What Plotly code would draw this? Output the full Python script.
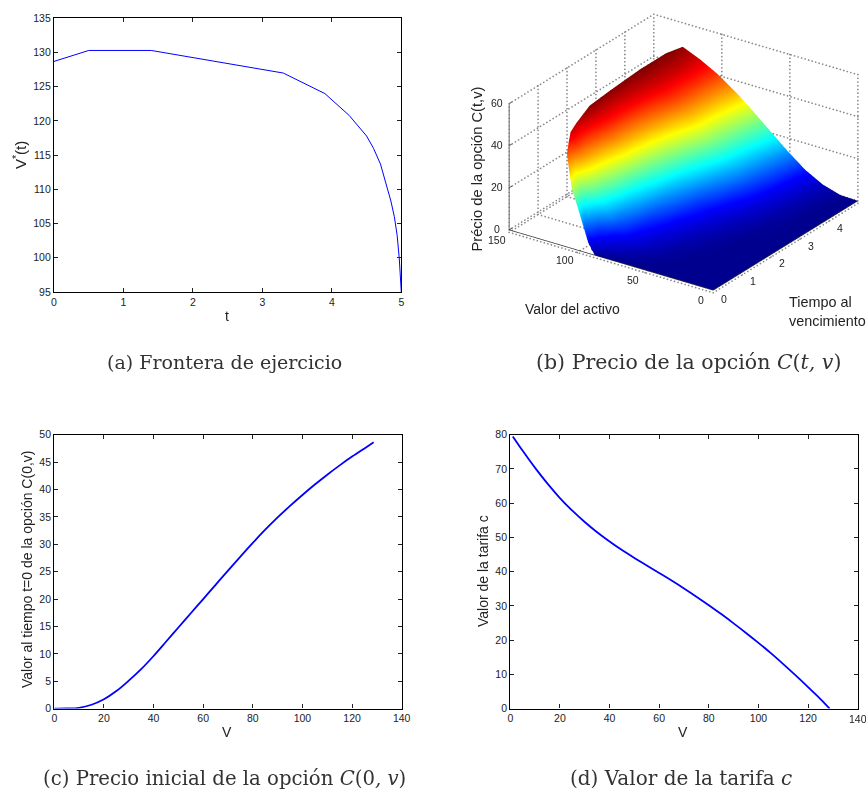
import plotly.graph_objects as go

W, H = 866, 790

# (a) exercise frontier
t_a = [0, 0.5, 1.4, 3.3, 3.9, 4.25, 4.5, 4.6, 4.7, 4.75, 4.8, 4.85, 4.9, 4.94, 4.97, 4.99, 5]
v_a = [128.7, 130.3, 130.3, 127, 124, 120.8, 117.8, 116, 113.7, 112, 110.3, 108.3, 106, 103.3, 100, 97.5, 95]

# (c) initial option price
v_c = [0, 5, 10, 15, 20, 25, 30, 35, 40, 45, 50, 55, 60, 65, 70, 75, 80, 85, 90, 95, 100, 105, 110, 115, 120, 125, 128.7]
c_c = [0, 0.02, 0.15, 0.7, 1.7, 3.2, 5.1, 7.2, 9.6, 12.2, 14.8, 17.4, 20, 22.6, 25.2, 27.75, 30.25, 32.65, 34.9, 37, 39, 40.9, 42.7, 44.4, 46, 47.5, 48.6]

# (d) fee value
v_d = [1, 5, 10, 15, 20, 25, 30, 35, 40, 45, 50, 55, 60, 65, 70, 75, 80, 85, 90, 95, 100, 105, 110, 115, 120, 125, 128.7]
c_d = [79.5, 75.3, 70.3, 65.7, 61.5, 57.8, 54.5, 51.5, 48.8, 46.3, 44, 41.8, 39.6, 37.4, 35.1, 32.7, 30.2, 27.6, 24.9, 22.1, 19.2, 16.2, 13, 9.7, 6.3, 2.8, 0]

# (b) option surface: rows by time to maturity, columns by fraction of the frontier
tau_b = [0, 0.005, 0.03, 0.1, 0.2, 0.4, 0.6, 0.75, 1.1, 1.7, 2.5, 3.6, 4.5, 5]
vstar_b = [87, 92, 100, 106, 110.3, 116, 119, 120.8, 124, 127, 129, 130.3, 130.3, 128.7]
frac_b = [0, 0.1, 0.2, 0.3, 0.4, 0.5, 0.6, 0.7, 0.8, 0.9, 1]
price_b = [
    [0, 0, 0, 0, 0, 0, 0, 0, 0, 0, 0],
    [0, 0, 0, 0, 0, 0, 0, 0, 0, 0.3, 5],
    [0, 0, 0, 0, 0, 0, 0, 0, 0.3, 1.5, 19.5],
    [0, 0, 0, 0, 0, 0, 0.1, 0.6, 3, 9.5, 27],
    [0, 0, 0, 0, 0, 0.1, 0.8, 2.3, 5.5, 14.5, 35],
    [0, 0, 0, 0, 0.05, 0.6, 2.2, 5, 11.5, 23, 39.2],
    [0, 0, 0, 0, 0.3, 1.5, 4.2, 9.5, 18.5, 30, 42.5],
    [0, 0, 0, 0.1, 0.6, 2.2, 5.5, 11.5, 21, 33, 45.7],
    [0, 0, 0, 0.2, 1.2, 3.6, 8, 15.5, 26, 37, 46.4],
    [0, 0, 0, 0.7, 2.8, 6.3, 12, 20.5, 31.5, 41, 49],
    [0, 0, 0.3, 2.0, 4.9, 10, 17, 26, 35, 43, 49],
    [0, 0.05, 1.5, 4.6, 9.8, 16.5, 24.5, 32.8, 40, 45.5, 49.5],
    [0, 0.2, 2.3, 6.3, 12.4, 19.6, 27, 34.2, 40.7, 46, 49.5],
    [0, 0.3, 2.8, 7.3, 13.7, 20.8, 28, 34.7, 40.5, 45, 48.6],
]
ticks_tau = [0, 1, 2, 3, 4, 5]
ticks_v = [0, 50, 100, 150]
ticks_z = [0, 20, 40, 60]

BLUE = "#0000ff"
SANS = "Liberation Sans"
SERIF = "DejaVu Serif"
TICK = dict(size=10.5, color="#222222", family=SANS)

fig = go.Figure()
fig.add_trace(go.Scatter(x=t_a, y=v_a, mode="lines", line=dict(color=BLUE, width=1), xaxis="x", yaxis="y"))
fig.add_trace(go.Scatter(x=v_c, y=c_c, mode="lines", line=dict(color=BLUE, width=1.8, shape="spline", smoothing=1), xaxis="x2", yaxis="y2"))
fig.add_trace(go.Scatter(x=v_d, y=c_d, mode="lines", line=dict(color=BLUE, width=1.8, shape="spline", smoothing=1), xaxis="x3", yaxis="y3"))

x_mat = [[tau for _ in frac_b] for tau in tau_b]
y_mat = [[f * vs for f in frac_b] for vs in vstar_b]
JET = [[0, "#00008f"], [0.125, "#0000ff"], [0.375, "#00ffff"], [0.625, "#ffff00"], [0.875, "#ff0000"], [1, "#800000"]]
fig.add_trace(go.Surface(
    x=x_mat, y=y_mat, z=price_b, colorscale=JET, cmin=0, cmax=49.5, showscale=False, hoverinfo="skip",
    lighting=dict(ambient=1, diffuse=0, specular=0, fresnel=0, roughness=1),
))

tmax, vmax, zmax = ticks_tau[-1], ticks_v[-1], ticks_z[-1]
FLOOR = -1.2  # floor dots sit just under the surface so that it hides them
gx, gy, gz = [], [], []
def seg(a, b, n):
    for i in range(n + 1):
        f = i / n
        gx.append(a[0] + (b[0] - a[0]) * f)
        gy.append(a[1] + (b[1] - a[1]) * f)
        gz.append(a[2] + (b[2] - a[2]) * f)
for tt in ticks_tau:
    seg((tt, 0, FLOOR), (tt, vmax, FLOOR), 58)
    seg((tt, vmax, 0), (tt, vmax, zmax), 34)
for vv in ticks_v:
    seg((0, vv, FLOOR), (tmax, vv, FLOOR), 46)
    seg((tmax, vv, 0), (tmax, vv, zmax), 34)
for zz in ticks_z:
    seg((0, vmax, zz), (tmax, vmax, zz), 46)
    seg((tmax, 0, zz), (tmax, vmax, zz), 58)
fig.add_trace(go.Scatter3d(x=gx, y=gy, z=gz, mode="markers", hoverinfo="skip",
                           marker=dict(color="#8a8a8a", size=1, line=dict(width=0))))
ax_x = [0, tmax, None, 0, 0, None, 0, 0]
ax_y = [0, 0, None, 0, vmax, None, vmax, vmax]
ax_z = [0, 0, None, 0, 0, None, 0, zmax]
for zz in ticks_z:
    ax_x += [None, 0, 0.1]; ax_y += [None, vmax, vmax]; ax_z += [None, zz, zz]
fig.add_trace(go.Scatter3d(x=ax_x, y=ax_y, z=ax_z, mode="lines", hoverinfo="skip",
                           line=dict(color="#333333", width=1.5)))

def px_x(a, b): return [a / W, b / W]
def px_y(a, b): return [1 - b / H, 1 - a / H]
def axis(dom, anchor, rng, dtick, **kw):
    return dict(domain=dom, anchor=anchor, range=rng, dtick=dtick, showgrid=False, zeroline=False,
                showline=True, mirror="allticks", linecolor="black", linewidth=1.3, ticks="inside",
                ticklen=4, tickwidth=1, tickcolor="#222222", tickfont=TICK, tick0=0, automargin=False, **kw)

hidden = dict(visible=False)
EYE = 2.2
SC = 1.76
fig.update_layout(
    width=W, height=H, margin=dict(l=0, r=0, t=0, b=0), showlegend=False, paper_bgcolor="white",
    plot_bgcolor="white", font=dict(family=SANS),
    xaxis=axis(px_x(54, 401.3), "y", [0, 5], 1),
    yaxis=axis(px_y(18.3, 292), "x", [95, 135], 5),
    xaxis2=axis(px_x(54.3, 401.7), "y2", [0, 140], 20),
    yaxis2=axis(px_y(434.7, 708.6), "x2", [0, 50], 5),
    xaxis3=axis(px_x(510.3, 857.7), "y3", [0, 140], 20),
    yaxis3=axis(px_y(434.7, 708.6), "x3", [0, 80], 10),
    scene=dict(
        domain=dict(x=px_x(501, 866), y=px_y(0, 307)),
        xaxis=hidden, yaxis=hidden, zaxis=hidden,
        aspectmode="manual", aspectratio=dict(x=1.0 * SC, y=0.976 * SC, z=0.56 * SC),
        camera=dict(projection=dict(type="orthographic"),
                    eye=dict(x=-0.743 * EYE, y=-0.514 * EYE, z=0.4275 * EYE),
                    up=dict(x=0, y=0, z=1), center=dict(x=0, y=0, z=0)),
        annotations=(
            [dict(x=tt, y=0, z=0, text=str(tt), showarrow=False, xshift=11, yshift=-9, font=TICK) for tt in ticks_tau]
            + [dict(x=0, y=vv, z=0, text=str(vv), showarrow=False, xshift=-12, yshift=-10, font=TICK) for vv in ticks_v]
            + [dict(x=0, y=vmax, z=zz, text=str(zz), showarrow=False, xshift=-12, yshift=1, font=TICK) for zz in ticks_z]
        ),
    ),
)

def note(x, y, text, size=14, rot=0, family=SANS, color="#222222", **kw):
    fig.add_annotation(xref="paper", yref="paper", x=x / W, y=1 - y / H, text=text, showarrow=False,
                       xanchor="center", yanchor="middle",
                       textangle=rot, font=dict(size=size, family=family, color=color), **kw)

note(227, 316, "t")
note(20, 155, "V<sup>*</sup>(t)", size=15, rot=-90)
note(227, 732, "V")
note(683, 732, "V")
note(27, 570, "Valor al tiempo t=0 de la opción C(0,v)", rot=-90)
note(483, 571, "Valor de la tarifa c", rot=-90)
note(476.5, 169, "Précio de la opción C(t,v)", size=14.7, rot=-90)
note(572, 309, "Valor del activo")
note(827, 311, "Tiempo al<br>vencimiento", size=14.4, align="left")
note(857.7, 719, "140", size=10.5)

CAP = dict(family=SERIF, color="#333333")
note(224, 362, "(a) Frontera de ejercicio", size=19, **CAP)
note(688, 362, "(b) Precio de la opción <i>C</i>(<i>t, v</i>)", size=20.5, **CAP)
note(224, 778, "(c) Precio inicial de la opción <i>C</i>(0<i>, v</i>)", size=19.7, **CAP)
note(681, 778, "(d) Valor de la tarifa <i>c</i>", size=20, **CAP)

fig.write_html("out.html", post_script="document.body.style.margin='0';", config=dict(displayModeBar=False))
